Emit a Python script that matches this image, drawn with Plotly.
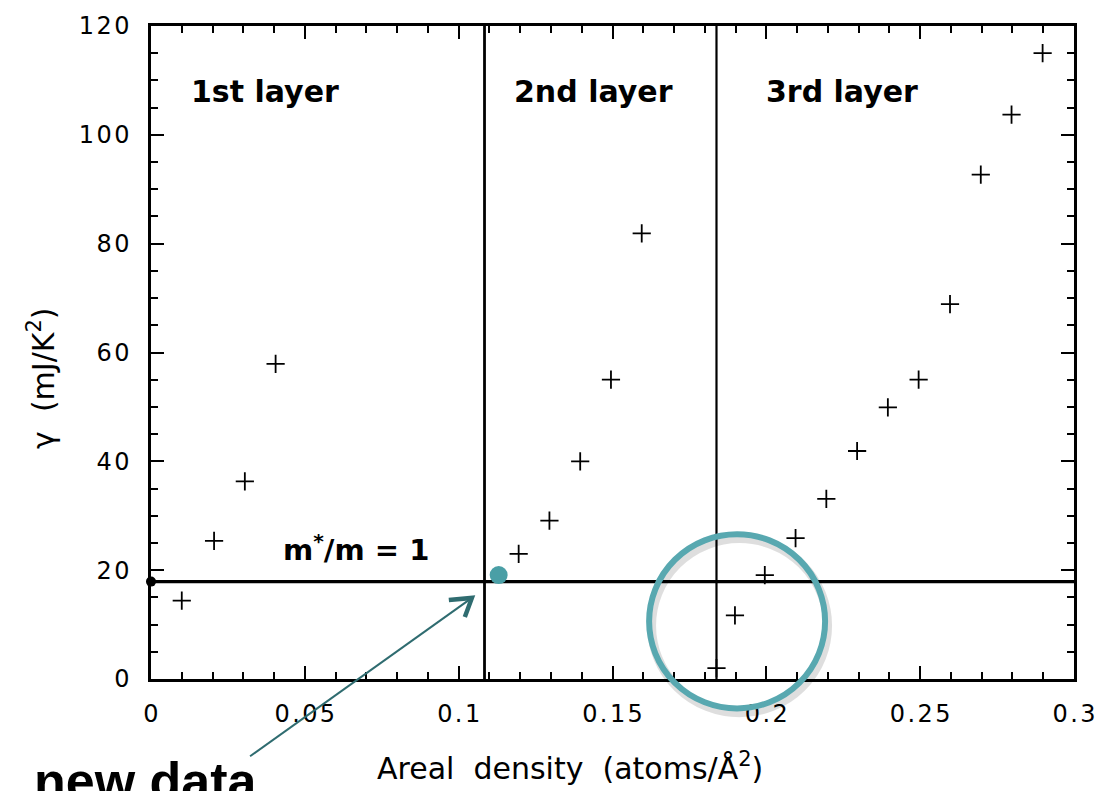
import plotly.graph_objects as go

# ---------------- data ----------------
layer1_x = [0.0100, 0.0205, 0.0305, 0.0405]
layer1_y = [14.4, 25.4, 36.3, 57.9]
layer2_x = [0.1195, 0.1295, 0.1395, 0.1495, 0.1595]
layer2_y = [23.0, 29.1, 40.0, 55.0, 81.9]
layer3_x = [0.1838, 0.1898, 0.1995, 0.2095, 0.2195, 0.2295, 0.2395, 0.2495,
            0.2597, 0.2697, 0.2797, 0.2898]
layer3_y = [2.0, 11.7, 19.1, 25.9, 33.1, 41.9, 49.9, 55.0, 68.9, 92.7, 103.7, 115.0]
new_x = [0.1130]
new_y = [19.1]
free_mass_gamma = 17.9          # m*/m = 1 level
layer_boundaries = [0.1084, 0.1838]
layer_names = ["1st layer", "2nd layer", "3rd layer"]
x_tickvals = [0, 0.05, 0.1, 0.15, 0.2, 0.25, 0.3]
x_ticktext = ["0", "0.05", "0.1", "0.15", "0.2", "0.25", "0.3"]
y_tickvals = [0, 20, 40, 60, 80, 100, 120]
y_ticktext = ["0", "20", "40", "60", "80", "100", "120"]

X_MAX, Y_MAX = 0.3, 120.0
FONT = "DejaVu Sans"
TEAL = "#58A8B0"
DARK_TEAL = "#2F6C70"
HAIR = "\u200a"


def spaced(s):
    # the reference typeface is slightly letter-spaced
    return HAIR.join(s)


def px(x):
    return x / X_MAX


def py(y):
    return y / Y_MAX


fig = go.Figure()

# reference line m*/m = 1
fig.add_trace(go.Scatter(x=[0, X_MAX], y=[free_mass_gamma, free_mass_gamma],
                         mode="lines", line=dict(color="black", width=3.3),
                         hoverinfo="skip", cliponaxis=False))
fig.add_trace(go.Scatter(x=[0], y=[free_mass_gamma], mode="markers",
                         marker=dict(color="black", size=10), cliponaxis=False))

# layer boundaries
for b, w in zip(layer_boundaries, [2.8, 2.2]):
    fig.add_shape(type="line", xref="x", yref="y", x0=b, x1=b, y0=0, y1=Y_MAX,
                  line=dict(color="black", width=w))

# data crosses
all_x = layer1_x + layer2_x + layer3_x
all_y = layer1_y + layer2_y + layer3_y
fig.add_trace(go.Scatter(x=all_x, y=all_y, mode="markers",
                         marker=dict(symbol="cross-thin", size=13,
                                     line=dict(color="black", width=1.8))))

# new data point
fig.add_trace(go.Scatter(x=new_x, y=new_y, mode="markers",
                         marker=dict(color="#4A9FA6", size=18)))

# highlight circle (shadow + ring) in paper coords so it isn't clipped
cx, cy, rx, ry = 0.1905, 10.6, 0.0286, 16.0
fig.add_shape(type="circle", xref="paper", yref="paper",
              x0=px(cx - rx + 0.0008), x1=px(cx + rx + 0.0008),
              y0=py(cy - ry - 0.8), y1=py(cy + ry - 0.8),
              line=dict(color="rgba(0,0,0,0.13)", width=9), layer="above")
fig.add_shape(type="circle", xref="paper", yref="paper",
              x0=px(cx - rx), x1=px(cx + rx), y0=py(cy - ry), y1=py(cy + ry),
              line=dict(color=TEAL, width=6), layer="above")

# arrow from "new data" to the point
tail = (0.0322, -14.2)
tip = (0.1043, 14.9)
arm1 = (0.0968, 14.5)
arm2 = (0.1020, 11.4)
fig.add_shape(type="line", xref="paper", yref="paper",
              x0=px(tail[0]), y0=py(tail[1]), x1=px(tip[0]), y1=py(tip[1]),
              line=dict(color=DARK_TEAL, width=2), layer="above")
fig.add_shape(type="path", xref="paper", yref="paper",
              path=f"M {px(arm1[0])},{py(arm1[1])} L {px(tip[0])},{py(tip[1])} L {px(arm2[0])},{py(arm2[1])}",
              line=dict(color=DARK_TEAL, width=4.5), layer="above")

# text labels
for name, lx in zip(layer_names, [0.0372, 0.1438, 0.2247]):
    fig.add_annotation(x=lx, y=107.9, xref="x", yref="y", text=name, showarrow=False,
                       font=dict(family=FONT, size=30, color="black", weight="bold"),
                       xanchor="center", yanchor="middle")
fig.add_annotation(x=0.0666, y=24.0, xref="x", yref="y", text="m<sup>*</sup>/m = 1",
                   showarrow=False,
                   font=dict(family=FONT, size=29, color="black", weight="bold"),
                   xanchor="center", yanchor="middle")
fig.add_annotation(x=0.454, y=-0.1347, xref="paper", yref="paper",
                   text="Areal\u00a0 density\u00a0 (atoms/Å<sup>2</sup>)", showarrow=False,
                   font=dict(family=FONT, size=30, color="black"),
                   xanchor="center", yanchor="middle")
fig.add_annotation(x=-0.1185, y=0.4605, xref="paper", yref="paper",
                   text="γ\u00a0 (mJ/K<sup>2</sup>)", showarrow=False, textangle=-90,
                   font=dict(family=FONT, size=30, color="black"),
                   xanchor="center", yanchor="middle")
fig.add_annotation(x=-0.1294, y=-0.1565, xref="paper", yref="paper",
                   text="new data", showarrow=False,
                   font=dict(family="Liberation Sans", size=52, color="black", weight="bold"),
                   xanchor="left", yanchor="middle")

axis_common = dict(showgrid=False, zeroline=False, showline=True, linecolor="black",
                   linewidth=2.5, mirror="ticks", ticks="inside", ticklen=13,
                   tickwidth=2, tickcolor="black",
                   tickfont=dict(family=FONT, size=24, color="black"))

fig.update_xaxes(range=[0, X_MAX], tickmode="array", tickvals=x_tickvals,
                 ticktext=[spaced(t) for t in x_ticktext], ticklabelstandoff=11,
                 minor=dict(tickmode="linear", tick0=0, dtick=0.01, ticks="inside",
                            ticklen=7, tickwidth=2, tickcolor="black", showgrid=False),
                 **axis_common)
fig.update_yaxes(range=[0, Y_MAX], tickmode="array", tickvals=y_tickvals,
                 ticktext=[spaced(t) for t in y_ticktext], ticklabelstandoff=14,
                 minor=dict(tickmode="linear", tick0=0, dtick=5, ticks="inside",
                            ticklen=7, tickwidth=2, tickcolor="black", showgrid=False),
                 **axis_common)

fig.update_layout(width=1115, height=791, showlegend=False,
                  margin=dict(l=151, r=41, t=21, b=112),
                  paper_bgcolor="white", plot_bgcolor="white")

fig.write_html("out.html")
